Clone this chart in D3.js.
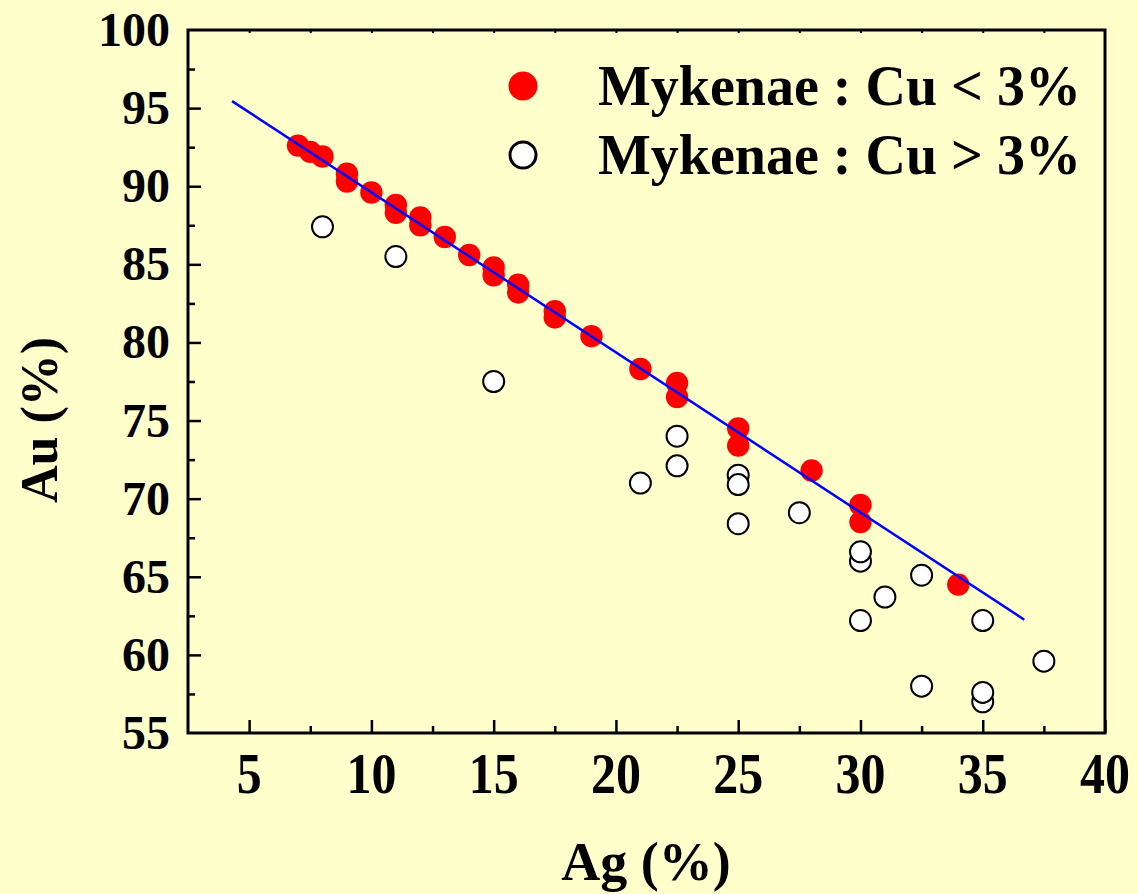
<!DOCTYPE html>
<html>
<head>
<meta charset="utf-8">
<script src="https://cdn.jsdelivr.net/npm/d3@7"></script>
<style>
  html, body { margin: 0; padding: 0; background: #FFFFCC; }
  svg { display: block; }
  text { font-family: "Liberation Serif", "Times New Roman", serif; font-weight: bold; fill: #000; }
</style>
</head>
<body>
<svg id="chart" width="1138" height="894"></svg>
<script>
// Mykenae gold objects: Au vs Ag content (%)
const lowCuAg = [7, 7.5, 8, 9, 9, 10, 11, 11, 12, 12, 13, 14, 15, 15, 16, 16, 17.5, 17.5, 19, 21, 22.5, 22.5, 25, 25, 28, 30, 30, 34];
const lowCuAu = [92.6, 92.2, 91.9, 90.8, 90.3, 89.6, 88.8, 88.3, 88.0, 87.5, 86.75, 85.6, 84.8, 84.3, 83.7, 83.2, 82.0, 81.6, 80.4, 78.3, 77.4, 76.5, 74.5, 73.4, 71.8, 69.6, 68.5, 64.5];

const highCuAg = [8, 11, 15, 21, 22.5, 22.5, 25, 25, 25, 27.5, 30, 30, 30, 31, 32.5, 32.5, 35, 35, 35, 37.5];
const highCuAu = [87.4, 85.5, 77.5, 71.0, 74.0, 72.1, 71.5, 70.9, 68.4, 69.1, 62.2, 66.0, 66.6, 63.7, 65.1, 58.0, 62.2, 57.0, 57.6, 59.6];

// endpoints of the fitted trend line (Ag, Au)
const trendAg = [4.3, 36.7];
const trendAu = [95.45, 62.25];

const xTicks = [5, 10, 15, 20, 25, 30, 35, 40];
const yTicks = [55, 60, 65, 70, 75, 80, 85, 90, 95, 100];
const legendLabels = ["Mykenae : Cu < 3%", "Mykenae : Cu > 3%"];

const svg = d3.select("#chart");
const plot = { left: 188, right: 1105, top: 30, bottom: 733 };

const x = d3.scaleLinear().domain([2.5, 40]).range([plot.left, plot.right]);
const y = d3.scaleLinear().domain([55, 100]).range([plot.bottom, plot.top]);

svg.append("rect").attr("width", 1138).attr("height", 894).attr("fill", "#FFFFCC");

const minorX = d3.range(7.5, 40, 5);
const minorY = d3.range(57.5, 100, 5);

// bottom axis: inward ticks, labels below
const gx = svg.append("g").attr("transform", `translate(0,${plot.bottom})`);
gx.call(d3.axisTop(x).tickValues(xTicks).tickSize(13).tickFormat(""));
gx.append("g").call(d3.axisTop(x).tickValues(minorX).tickSize(7).tickFormat(""));
gx.selectAll(".domain").remove();
gx.selectAll("line").attr("stroke", "#000").attr("stroke-width", 2.5);

// top axis: tiny inward ticks
const gt = svg.append("g").attr("transform", `translate(0,${plot.top})`);
gt.call(d3.axisBottom(x).tickValues(d3.range(5, 40, 2.5)).tickSize(3).tickFormat(""));
gt.selectAll(".domain").remove();
gt.selectAll("line").attr("stroke", "#000").attr("stroke-width", 2);

// left axis: inward ticks
const gy = svg.append("g").attr("transform", `translate(${plot.left},0)`);
gy.call(d3.axisRight(y).tickValues(yTicks.filter(v => v > 55 && v < 100)).tickSize(13).tickFormat(""));
gy.append("g").call(d3.axisRight(y).tickValues(minorY).tickSize(7).tickFormat(""));
gy.selectAll(".domain").remove();
gy.selectAll("line").attr("stroke", "#000").attr("stroke-width", 2.5);

// frame
svg.append("rect")
  .attr("x", plot.left).attr("y", plot.top)
  .attr("width", plot.right - plot.left).attr("height", plot.bottom - plot.top)
  .attr("fill", "none").attr("stroke", "#000").attr("stroke-width", 3);

// tick labels
svg.append("g").selectAll("text").data(xTicks).join("text")
  .attr("text-anchor", "middle")
  .attr("font-size", 50)
  .attr("transform", d => `translate(${x(d)},793) scale(1,1.12)`)
  .text(d => d);

svg.append("g").selectAll("text").data(yTicks).join("text")
  .attr("text-anchor", "end")
  .attr("font-size", 48)
  .attr("x", 170)
  .attr("y", d => y(d) + 16)
  .text(d => d);

// axis titles
svg.append("text")
  .attr("text-anchor", "middle").attr("font-size", 54)
  .attr("x", 646).attr("y", 880)
  .text("Ag (%)");

svg.append("text")
  .attr("text-anchor", "middle").attr("font-size", 52)
  .attr("transform", "translate(57,420) rotate(-90)")
  .text("Au (%)");

// Cu > 3% (open circles)
const high = highCuAg.map((a, i) => ({ ag: a, au: highCuAu[i] }));
svg.append("g").selectAll("circle").data(high).join("circle")
  .attr("cx", d => x(d.ag)).attr("cy", d => y(d.au))
  .attr("r", 10.5)
  .attr("fill", "#fff").attr("stroke", "#000").attr("stroke-width", 2);

// Cu < 3% (filled red)
const low = lowCuAg.map((a, i) => ({ ag: a, au: lowCuAu[i] }));
svg.append("g").selectAll("circle").data(low).join("circle")
  .attr("cx", d => x(d.ag)).attr("cy", d => y(d.au))
  .attr("r", 11.2)
  .attr("fill", "#FF0000");

// trend line
const trend = trendAg.map((a, i) => [a, trendAu[i]]);
svg.append("path")
  .attr("d", d3.line().x(d => x(d[0])).y(d => y(d[1]))(trend))
  .attr("fill", "none").attr("stroke", "#0000FF").attr("stroke-width", 2.5);

// legend
const legend = svg.append("g");
legend.append("circle").attr("cx", 523).attr("cy", 86).attr("r", 14.5).attr("fill", "#FF0000");
legend.append("circle").attr("cx", 523).attr("cy", 155).attr("r", 13).attr("fill", "#fff")
  .attr("stroke", "#000").attr("stroke-width", 3);
legend.selectAll("text").data(legendLabels).join("text")
  .attr("x", 598).attr("y", (d, i) => 105 + i * 69)
  .attr("font-size", 56)
  .text(d => d);
</script>
</body>
</html>
